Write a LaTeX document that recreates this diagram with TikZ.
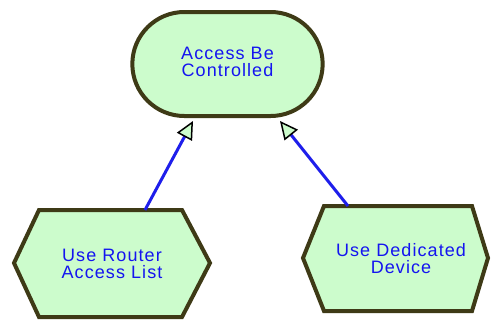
\documentclass[tikz,border=0pt]{standalone}
\usepackage{fontspec}
\setmainfont{Liberation Sans}[LetterSpace=6]
\usetikzlibrary{shapes.misc,arrows.meta}
\definecolor{nodefill}{RGB}{204,252,204}
\definecolor{nodeborder}{RGB}{62,58,22}
\definecolor{txtblue}{RGB}{20,20,240}
\definecolor{linkblue}{RGB}{30,30,235}
\tikzset{
  goalbox/.style={rounded rectangle, draw=nodeborder, fill=nodefill, line width=4pt, minimum width=197pt, minimum height=104pt},
  hexbox/.style={draw=nodeborder, fill=nodefill, line width=4pt, line join=miter},
  lbl/.style={text=txtblue, align=center, font=\fontsize{18}{17}\selectfont, inner sep=0pt},
  link/.style={draw=linkblue, line width=3pt, -{Triangle[open, color=black, fill=nodefill, length=18pt, width=17pt, line width=1.5pt]}}
}
\begin{document}
\begin{tikzpicture}[x=1pt,y=-1pt]
\useasboundingbox (0,0) rectangle (491,322);
\fill[white] (0,0) rectangle (491,322);
% top goal
\node[goalbox] (goal) at (227.5,64) {};
\node[lbl] (goaltxt) at (227.5,62) {Access Be\\Controlled};
% left hexagon
\draw[hexbox] (14,263) -- (39,210) -- (182,210) -- (210,263) -- (182,317) -- (39,317) -- cycle;
\node[lbl] (lefttxt) at (112,264) {Use Router\\Access List};
\coordinate (lefttop) at (145,210);
% right hexagon
\draw[hexbox] (303,258) -- (324,206) -- (472,206) -- (488,258) -- (472,311) -- (324,311) -- cycle;
\node[lbl] (righttxt) at (401,259) {Use Dedicated\\Device};
\coordinate (righttop) at (348,206);
% connectors
\coordinate (goalL) at (193,121);
\coordinate (goalR) at (280,121);
\draw[link] (lefttop) -- (goalL);
\draw[link] (righttop) -- (goalR);
\end{tikzpicture}
\end{document}
